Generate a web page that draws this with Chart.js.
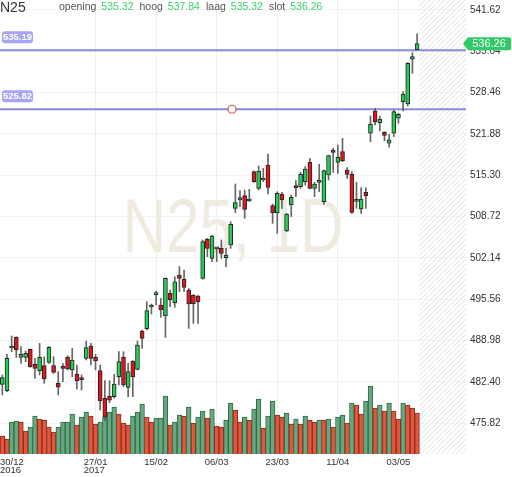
<!DOCTYPE html>
<html>
<head>
<meta charset="utf-8">
<script src="https://cdn.jsdelivr.net/npm/chart.js@4.4.0/dist/chart.umd.min.js"></script>
<style>
  html, body { margin: 0; padding: 0; background: #fff; }
  #wrap { position: relative; width: 512px; height: 477px; }
</style>
</head>
<body>
<div id="wrap"><canvas id="priceChart"></canvas></div>
<script>
const ctx = document.getElementById('priceChart').getContext('2d');
const FONT = '"Liberation Sans", Arial, sans-serif'

// trading days (30/12/2016 - 09/05/2017)
const dates = [
    '30/12',
    '02/01','03/01','04/01','05/01','06/01','09/01','10/01','11/01','12/01','13/01',
    '16/01','17/01','18/01','19/01','20/01','23/01','24/01','25/01','26/01','27/01',
    '30/01','31/01','01/02','02/02','03/02','06/02','07/02','08/02','09/02','10/02',
    '13/02','14/02','15/02','16/02','17/02','20/02','21/02','22/02','23/02','24/02',
    '27/02','28/02','01/03','02/03','03/03','06/03','07/03','08/03','09/03','10/03',
    '13/03','14/03','15/03','16/03','17/03','20/03','21/03','22/03','23/03','24/03',
    '27/03','28/03','29/03','30/03','31/03','03/04','04/04','05/04','06/04','07/04',
    '10/04','11/04','12/04','13/04','18/04','19/04','20/04','21/04','24/04','25/04',
    '26/04','27/04','28/04','02/05','03/05','04/05','05/05','08/05','09/05'
]
const futureSlots = 10

const open = [
    482.02, 481.02, 487.81, 489.51, 486.32, 486.32, 487.60, 485.21, 484.20, 485.00,
    485.53, 485.00, 482.18, 484.78, 486.32, 484.31, 483.67, 482.98, 486.16, 488.13,
    486.32, 484.20, 479.79, 480.10, 480.06, 483.24, 486.32, 481.54, 485.73, 484.41,
    490.51, 490.88, 494.33, 496.24, 494.65, 492.90, 496.51, 495.02, 499.43, 498.74,
    497.04, 496.24, 496.08, 498.89, 505.10, 502.08, 503.60, 503.67, 502.19, 504.20,
    510.04, 511.37, 512.06, 511.21, 515.88, 513.23, 514.55, 516.94, 510.47, 509.35,
    512.32, 506.43, 510.57, 513.65, 513.49, 514.29, 517.37, 513.23, 514.18, 511.10,
    515.35, 519.33, 517.37, 519.07, 516.15, 515.46, 511.16, 509.94, 512.59, 521.99,
    525.54, 523.69, 522.15, 520.40, 521.99, 524.38, 527.03, 526.66, 533.77, 535.32
]
const high = [
    483.51, 486.80, 489.72, 489.61, 488.02, 487.33, 487.65, 486.16, 488.55, 486.43,
    488.02, 486.43, 484.04, 485.37, 486.59, 487.76, 485.10, 483.51, 488.92, 488.55,
    486.80, 485.10, 482.60, 482.60, 483.60, 487.22, 487.22, 485.36, 485.80, 488.92,
    490.67, 495.18, 494.81, 496.88, 495.71, 498.95, 497.04, 499.16, 500.75, 500.22,
    497.30, 496.30, 496.20, 505.00, 505.26, 505.79, 503.83, 505.00, 503.67, 507.92,
    513.92, 512.85, 512.96, 513.07, 515.98, 516.78, 516.41, 518.69, 510.73, 512.69,
    512.59, 509.24, 512.16, 514.45, 515.77, 516.68, 518.00, 514.18, 517.05, 516.15,
    518.53, 519.60, 520.13, 521.19, 516.52, 515.88, 514.18, 513.33, 513.33, 524.75,
    525.97, 524.75, 522.25, 521.83, 525.70, 525.17, 528.62, 533.24, 534.83, 537.84
]
const low = [
    480.33, 480.86, 487.22, 486.32, 485.37, 485.63, 484.73, 482.98, 483.51, 482.18,
    485.37, 483.77, 480.33, 482.45, 484.31, 483.24, 481.28, 481.12, 485.90, 485.10,
    484.31, 477.94, 476.20, 479.10, 479.80, 481.91, 481.65, 480.06, 480.06, 484.30,
    487.75, 490.67, 493.22, 494.65, 492.69, 489.50, 494.38, 494.28, 496.77, 496.77,
    490.93, 491.73, 491.73, 498.74, 502.34, 501.55, 501.55, 502.08, 500.75, 503.67,
    509.35, 510.31, 508.45, 511.10, 514.18, 512.96, 514.29, 512.32, 507.65, 506.06,
    510.04, 506.33, 508.71, 511.90, 513.23, 513.76, 513.12, 511.90, 512.70, 510.68,
    514.55, 515.77, 515.62, 517.47, 514.82, 509.25, 510.04, 509.25, 510.04, 520.66,
    523.32, 522.36, 520.77, 519.76, 521.46, 523.58, 525.54, 526.34, 531.54, 535.32
]
const close = [
    483.09, 486.16, 488.02, 487.49, 486.80, 486.96, 484.84, 484.57, 486.32, 482.87,
    487.91, 483.93, 481.55, 484.57, 484.47, 485.90, 482.61, 482.77, 487.86, 486.16,
    485.74, 479.37, 476.80, 479.50, 482.08, 485.63, 481.92, 484.04, 483.24, 488.28,
    489.34, 493.75, 494.54, 496.61, 493.85, 498.89, 495.45, 498.36, 498.89, 497.46,
    494.81, 494.81, 495.18, 504.73, 503.67, 505.63, 503.72, 502.88, 502.61, 507.49,
    510.94, 511.74, 509.88, 511.47, 514.29, 515.98, 514.82, 513.38, 509.35, 512.43,
    511.37, 509.14, 511.79, 513.33, 515.45, 516.30, 513.23, 513.92, 514.29, 516.04,
    518.43, 518.96, 518.16, 517.63, 515.46, 509.41, 511.26, 511.53, 512.06, 523.47,
    523.85, 524.27, 521.67, 520.93, 525.44, 525.01, 528.25, 533.13, 534.19, 536.26
]

// volume (relative units) and its colouring, u = up, d = down
const volume = [
    18, 15, 32, 33, 32, 23, 27, 38, 35, 34,
    27, 22, 27, 32, 32, 40, 29, 37, 42, 38,
    30, 32, 37, 42, 47, 40, 31, 29, 38, 42,
    50, 37, 32, 36, 36, 58, 29, 32, 39, 38,
    47, 31, 37, 43, 36, 45, 28, 27, 34, 51,
    44, 32, 37, 34, 45, 55, 26, 38, 53, 39,
    37, 41, 30, 35, 30, 38, 34, 32, 34, 34,
    35, 27, 37, 39, 31, 51, 49, 40, 53, 68,
    46, 49, 43, 51, 43, 35, 51, 49, 46, 41
]
const volDir = 'dduudduudd' + 'dduuuuduud' + 'duuuuddduu' + 'udduuuduud' + 'uduududduu' +
    'dduduuduud' + 'dudududdud' + 'uduududduu' + 'dududduddd'

const priceTicks = [475.82, 482.40, 488.98, 495.56, 502.14, 508.72, 515.30, 521.88, 528.46, 535.04, 541.62]
const axisLabels = ['30/12', '27/01', '15/02', '06/03', '23/03', '11/04', '03/05']
const axisYears = {'30/12': '2016', '27/01': '2017'}
const alertLevels = [535.19, 525.82]
const symbol = 'N25'
const watermark = 'N25, 1D'

const labels = dates.concat(Array(futureSlots).fill(''))
const labelIdx = axisLabels.map(l => dates.indexOf(l))

const bodies = open.map((o, i) => [o, close[i]])
const wicks = low.map((l, i) => [l, high[i]])
const bodyColors = open.map((o, i) => close[i] >= o ? '#22cc55' : '#e3141c')
const volColors = volDir.split('').map(d => d == 'u' ? '#68a780' : '#e0573d')
const volBorders = volDir.split('').map(d => d == 'u' ? '#2f6b45' : '#8b2c1c')

// hatch pattern for the empty future part
const hatch = document.createElement('canvas')
hatch.width = 5
hatch.height = 5
let hctx = hatch.getContext('2d')
hctx.strokeStyle = '#e2e2e2'
hctx.lineWidth = 1
hctx.beginPath()
hctx.moveTo(0, 5); hctx.lineTo(5, 0)
hctx.moveTo(-1, 1); hctx.lineTo(1, -1)
hctx.moveTo(4, 6); hctx.lineTo(6, 4)
hctx.stroke()

const backdrop = {
    id: 'backdrop',
    beforeDatasetsDraw(chart) {
        const {ctx, chartArea: a, scales: {x, y}} = chart
        ctx.save()
        const half = (x.getPixelForValue(1) - x.getPixelForValue(0)) / 2
        const fx = x.getPixelForValue(dates.length - 1) + half
        ctx.fillStyle = ctx.createPattern(hatch, 'repeat')
        ctx.fillRect(fx, a.top, a.right - fx, a.bottom - a.top)

        // watermark
        ctx.font = '76px ' + FONT
        const w = ctx.measureText(watermark).width
        ctx.translate((a.left + a.right) / 2, (a.top + a.bottom) / 2 + 25)
        ctx.scale(221 / w, 1)
        ctx.textAlign = 'center'
        ctx.fillStyle = '#efebe0'
        ctx.fillText(watermark, 0, 0)
        ctx.restore()

        // alert lines
        ctx.save()
        ctx.strokeStyle = '#8b8bdc'
        ctx.lineWidth = 2
        alertLevels.forEach(v => {
            const py = y.getPixelForValue(v)
            ctx.beginPath()
            ctx.moveTo(a.left, py)
            ctx.lineTo(a.right, py)
            ctx.stroke()
        })
        ctx.restore()
    },
    afterDraw(chart) {
        const {ctx, chartArea: a, scales: {x, y}} = chart
        ctx.save()

        // alert labels + marker
        alertLevels.forEach(v => {
            const py = y.getPixelForValue(v)
            ctx.fillStyle = '#a5a5f4'
            ctx.beginPath()
            ctx.roundRect(2, py - 19, 31, 12, 3)
            ctx.fill()
            ctx.fillStyle = '#fff'
            ctx.font = 'bold 9.5px ' + FONT
            ctx.textAlign = 'center'
            ctx.textBaseline = 'middle'
            ctx.fillText(v.toFixed(2), 17.5, py - 12.5)
        })
        const my = y.getPixelForValue(alertLevels[1])
        ctx.beginPath()
        ctx.arc((a.left + a.right) / 2 - 1, my, 4, 0, Math.PI * 2)
        ctx.fillStyle = '#fff'
        ctx.fill()
        ctx.strokeStyle = '#e25555'
        ctx.lineWidth = 1.2
        ctx.stroke()

        // header
        ctx.textAlign = 'left'
        ctx.textBaseline = 'alphabetic'
        ctx.fillStyle = '#333'
        ctx.font = '14px ' + FONT
        ctx.fillText(symbol, 0, 12)
        const last = dates.length - 1
        const quote = [['opening', open[last]], ['hoog', high[last]], ['laag', low[last]], ['slot', close[last]]]
        ctx.font = '10.5px ' + FONT
        let hx = 59
        quote.forEach(([name, val]) => {
            ctx.fillStyle = '#555'
            ctx.fillText(name, hx, 10)
            hx += ctx.measureText(name).width + 5
            ctx.fillStyle = '#3ccf6e'
            ctx.fillText(val.toFixed(2), hx, 10)
            hx += ctx.measureText(val.toFixed(2)).width + 6
        })

        // date axis
        ctx.fillStyle = '#333'
        ctx.font = '9.5px ' + FONT
        labelIdx.forEach((idx, k) => {
            const t = axisLabels[k]
            const cx = x.getPixelForValue(idx)
            const tw = ctx.measureText(t).width
            const lx = Math.max(0, cx - tw / 2)
            ctx.fillText(t, lx, a.bottom + 10.5)
            if (axisYears[t]) ctx.fillText(axisYears[t], lx, a.bottom + 18.5)
        })

        // last price tag
        const py = y.getPixelForValue(close[last])
        ctx.fillStyle = '#2fcc66'
        ctx.beginPath()
        ctx.moveTo(a.right - 3, py)
        ctx.lineTo(a.right + 2, py - 6.5)
        ctx.lineTo(a.right + 43, py - 6.5)
        ctx.quadraticCurveTo(a.right + 45, py - 6.5, a.right + 45, py - 4.5)
        ctx.lineTo(a.right + 45, py + 4.5)
        ctx.quadraticCurveTo(a.right + 45, py + 6.5, a.right + 43, py + 6.5)
        ctx.lineTo(a.right + 2, py + 6.5)
        ctx.closePath()
        ctx.fill()
        ctx.fillStyle = '#fff'
        ctx.font = '11px ' + FONT
        ctx.textAlign = 'center'
        ctx.textBaseline = 'middle'
        ctx.fillText(close[last].toFixed(2), a.right + 23, py + 0.5)
        ctx.restore()
    }
}

Chart.defaults.font.family = FONT

const data = {
    labels,
    datasets: [
        {
            label: 'body',
            data: bodies,
            yAxisID: 'y',
            grouped: false,
            barThickness: 4,
            minBarLength: 2,
            backgroundColor: bodyColors,
            borderColor: '#262626',
            borderWidth: 1,
            borderSkipped: false,
            order: 1,
        },
        {
            label: 'wick',
            data: wicks,
            yAxisID: 'y',
            grouped: false,
            barThickness: 1,
            backgroundColor: '#666',
            order: 2,
        },
        {
            label: 'volume',
            data: volume,
            yAxisID: 'yv',
            grouped: false,
            barPercentage: 1,
            categoryPercentage: 1,
            backgroundColor: volColors,
            borderColor: volBorders,
            borderWidth: 1,
            order: 3,
        },
    ],
}

const config = {
    type: 'bar',
    data: data,
    options: {
        responsive: true,
        maintainAspectRatio: false,
        animation: false,
        layout: { padding: 0 },
        plugins: {
            legend: { display: false },
            tooltip: { enabled: false },
        },
        scales: {
            x: {
                offset: true,
                grid: {
                    offset: false,
                    drawTicks: false,
                    color: c => labelIdx.includes(c.index) && c.index > 0 ? '#efefef' : 'rgba(0,0,0,0)',
                },
                border: { display: false },
                ticks: { display: false, autoSkip: false },
                afterFit: s => { s.height = 23; s.paddingLeft = 0; s.paddingRight = 0 },
            },
            y: {
                position: 'right',
                min: 470.93,
                max: 543.21,
                afterBuildTicks: s => { s.ticks = priceTicks.map(v => ({ value: v })) },
                grid: { color: '#f3f3f3', drawTicks: false },
                border: { display: false },
                ticks: {
                    autoSkip: false,
                    padding: 4,
                    color: '#333',
                    font: { size: 10 },
                    callback: v => v.toFixed(2),
                },
                afterFit: s => { s.width = 46; s.paddingTop = 0; s.paddingBottom = 0 },
            },
            yv: {
                display: false,
                min: 0,
                max: 454,
            },
        },
    },
    plugins: [backdrop],
}

const myChart = new Chart(ctx, config)
</script>
</body>
</html>
